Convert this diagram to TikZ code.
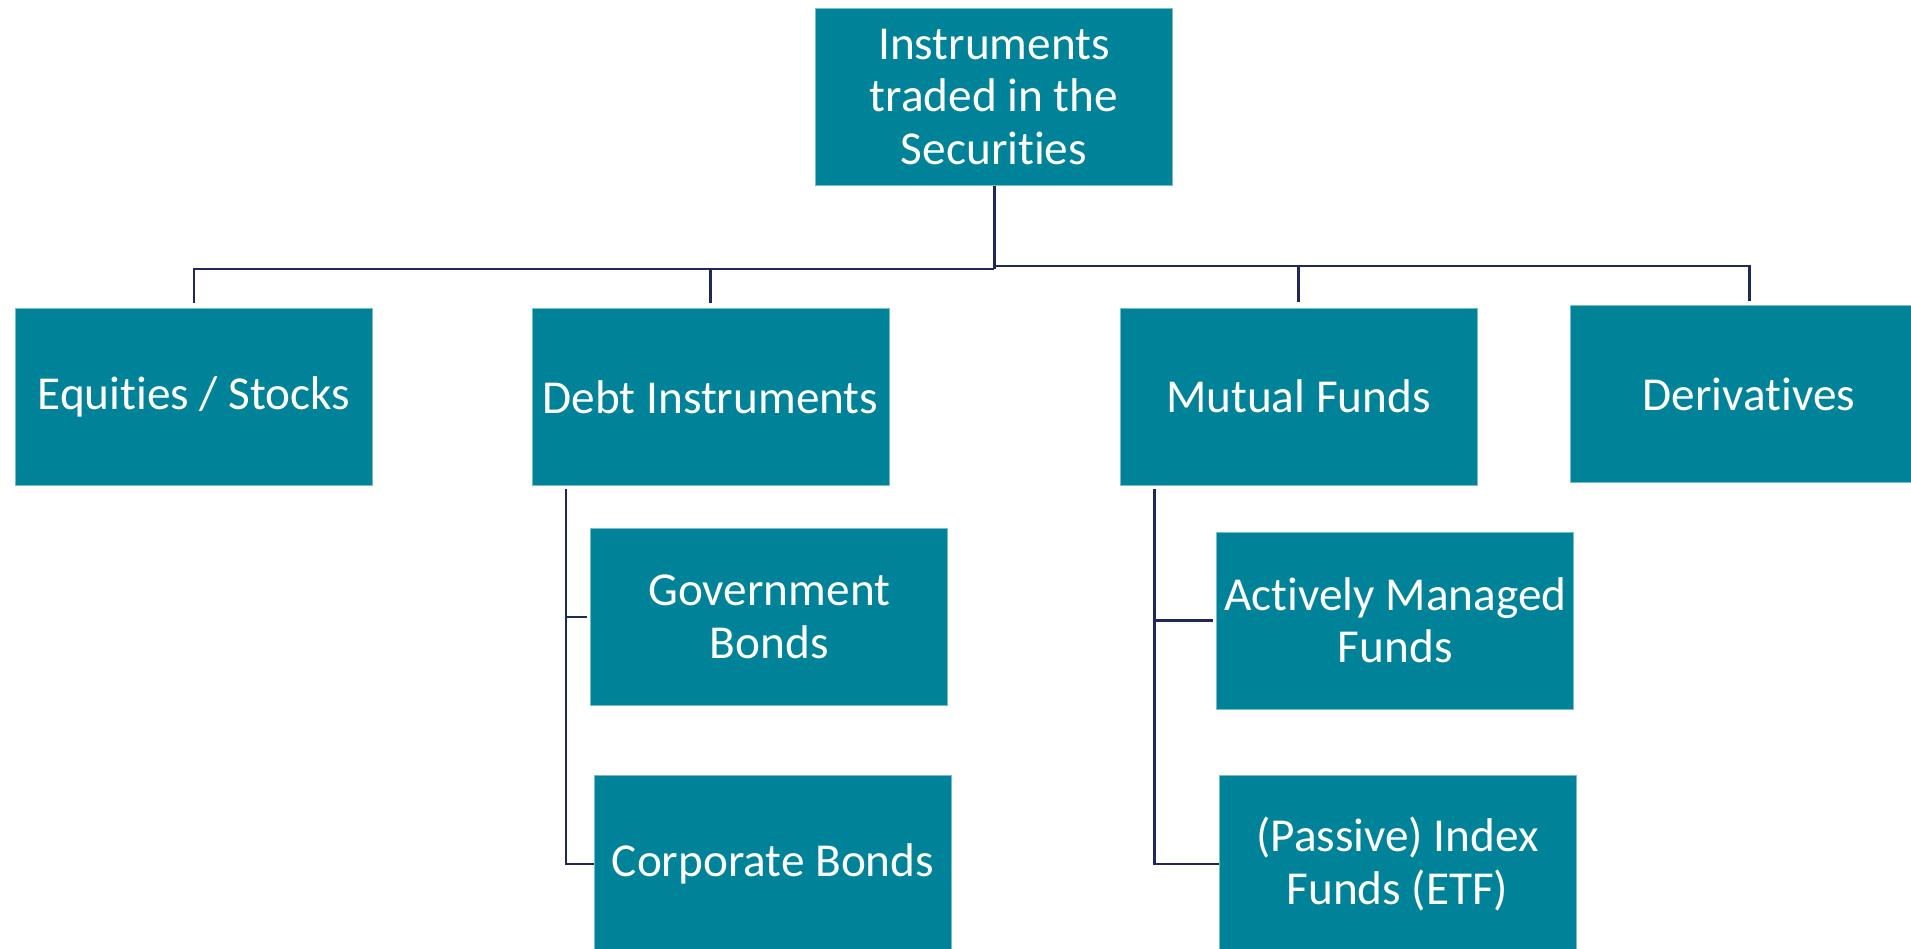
\documentclass[tikz,border=0pt]{standalone}
\usepackage{fontspec}
\setmainfont{Carlito}[Ligatures={NoCommon}]
\definecolor{boxteal}{RGB}{0,131,153}
\definecolor{boxedge}{RGB}{120,190,202}
\definecolor{linknavy}{RGB}{31,40,89}
\begin{document}
\begin{tikzpicture}[x=0.02cm,y=-0.02cm,
  box/.style={rectangle,fill=boxteal,draw=boxedge,line width=0.4pt,
    minimum width=7.14cm,minimum height=3.54cm,inner sep=0pt,
    text=white,align=center,font=\fontsize{26.9}{29.8}\selectfont},
  link/.style={draw=linknavy,line width=1.7pt}]
           % page
           \useasboundingbox (0,0) rectangle (1911,949);
           \clip (0,0) rectangle (1911,949);
           % boxes
         \node[box] (top) at (994,97) {Instruments\\traded in the\\Securities};
         \node[box] (equity) at (194,397) {Equities / Stocks};
         \node[box] (debt) at (710.5,397) {Debt Instruments};
         \node[box] (mutual) at (1298.5,396.5) {Mutual Funds};
         \node[box] (deriv) at (1749,394) {Derivatives};
         \node[box] (govt) at (769.3,617) {Government\\Bonds};
         \node[box] (corp) at (773,864) {Corporate Bonds};
         \node[box] (active) at (1395.3,620.5) {Actively Managed\\Funds};
         \node[box] (passive) at (1397.5,864) {(Passive) Index\\Funds (ETF)};
           % connectors
         \coordinate (hub) at (994,269);
         \coordinate (hubright) at (994,266);
         \coordinate (debtstem) at (566,489);
         \coordinate (mutualstem) at (1154,489);
         \draw[link] (top.south) -- (hub);
         \draw[link,shorten >=0.1cm] (hub) -| (equity.north);
         \draw[link,shorten >=0.1cm] (hub) -| (debt.north);
         \draw[link,shorten >=0.12cm] (hubright) -| (mutual.north);
         \draw[link,shorten >=0.08cm] (hubright) -| (deriv.north);
         \draw[link,shorten >=0.06cm] (debtstem) |- (govt.west);
         \draw[link] (debtstem) |- (corp.west);
         \draw[link,shorten >=0.06cm] (mutualstem) |- (active.west);
         \draw[link] (mutualstem) |- (passive.west);
        \end{tikzpicture}
\end{document}
